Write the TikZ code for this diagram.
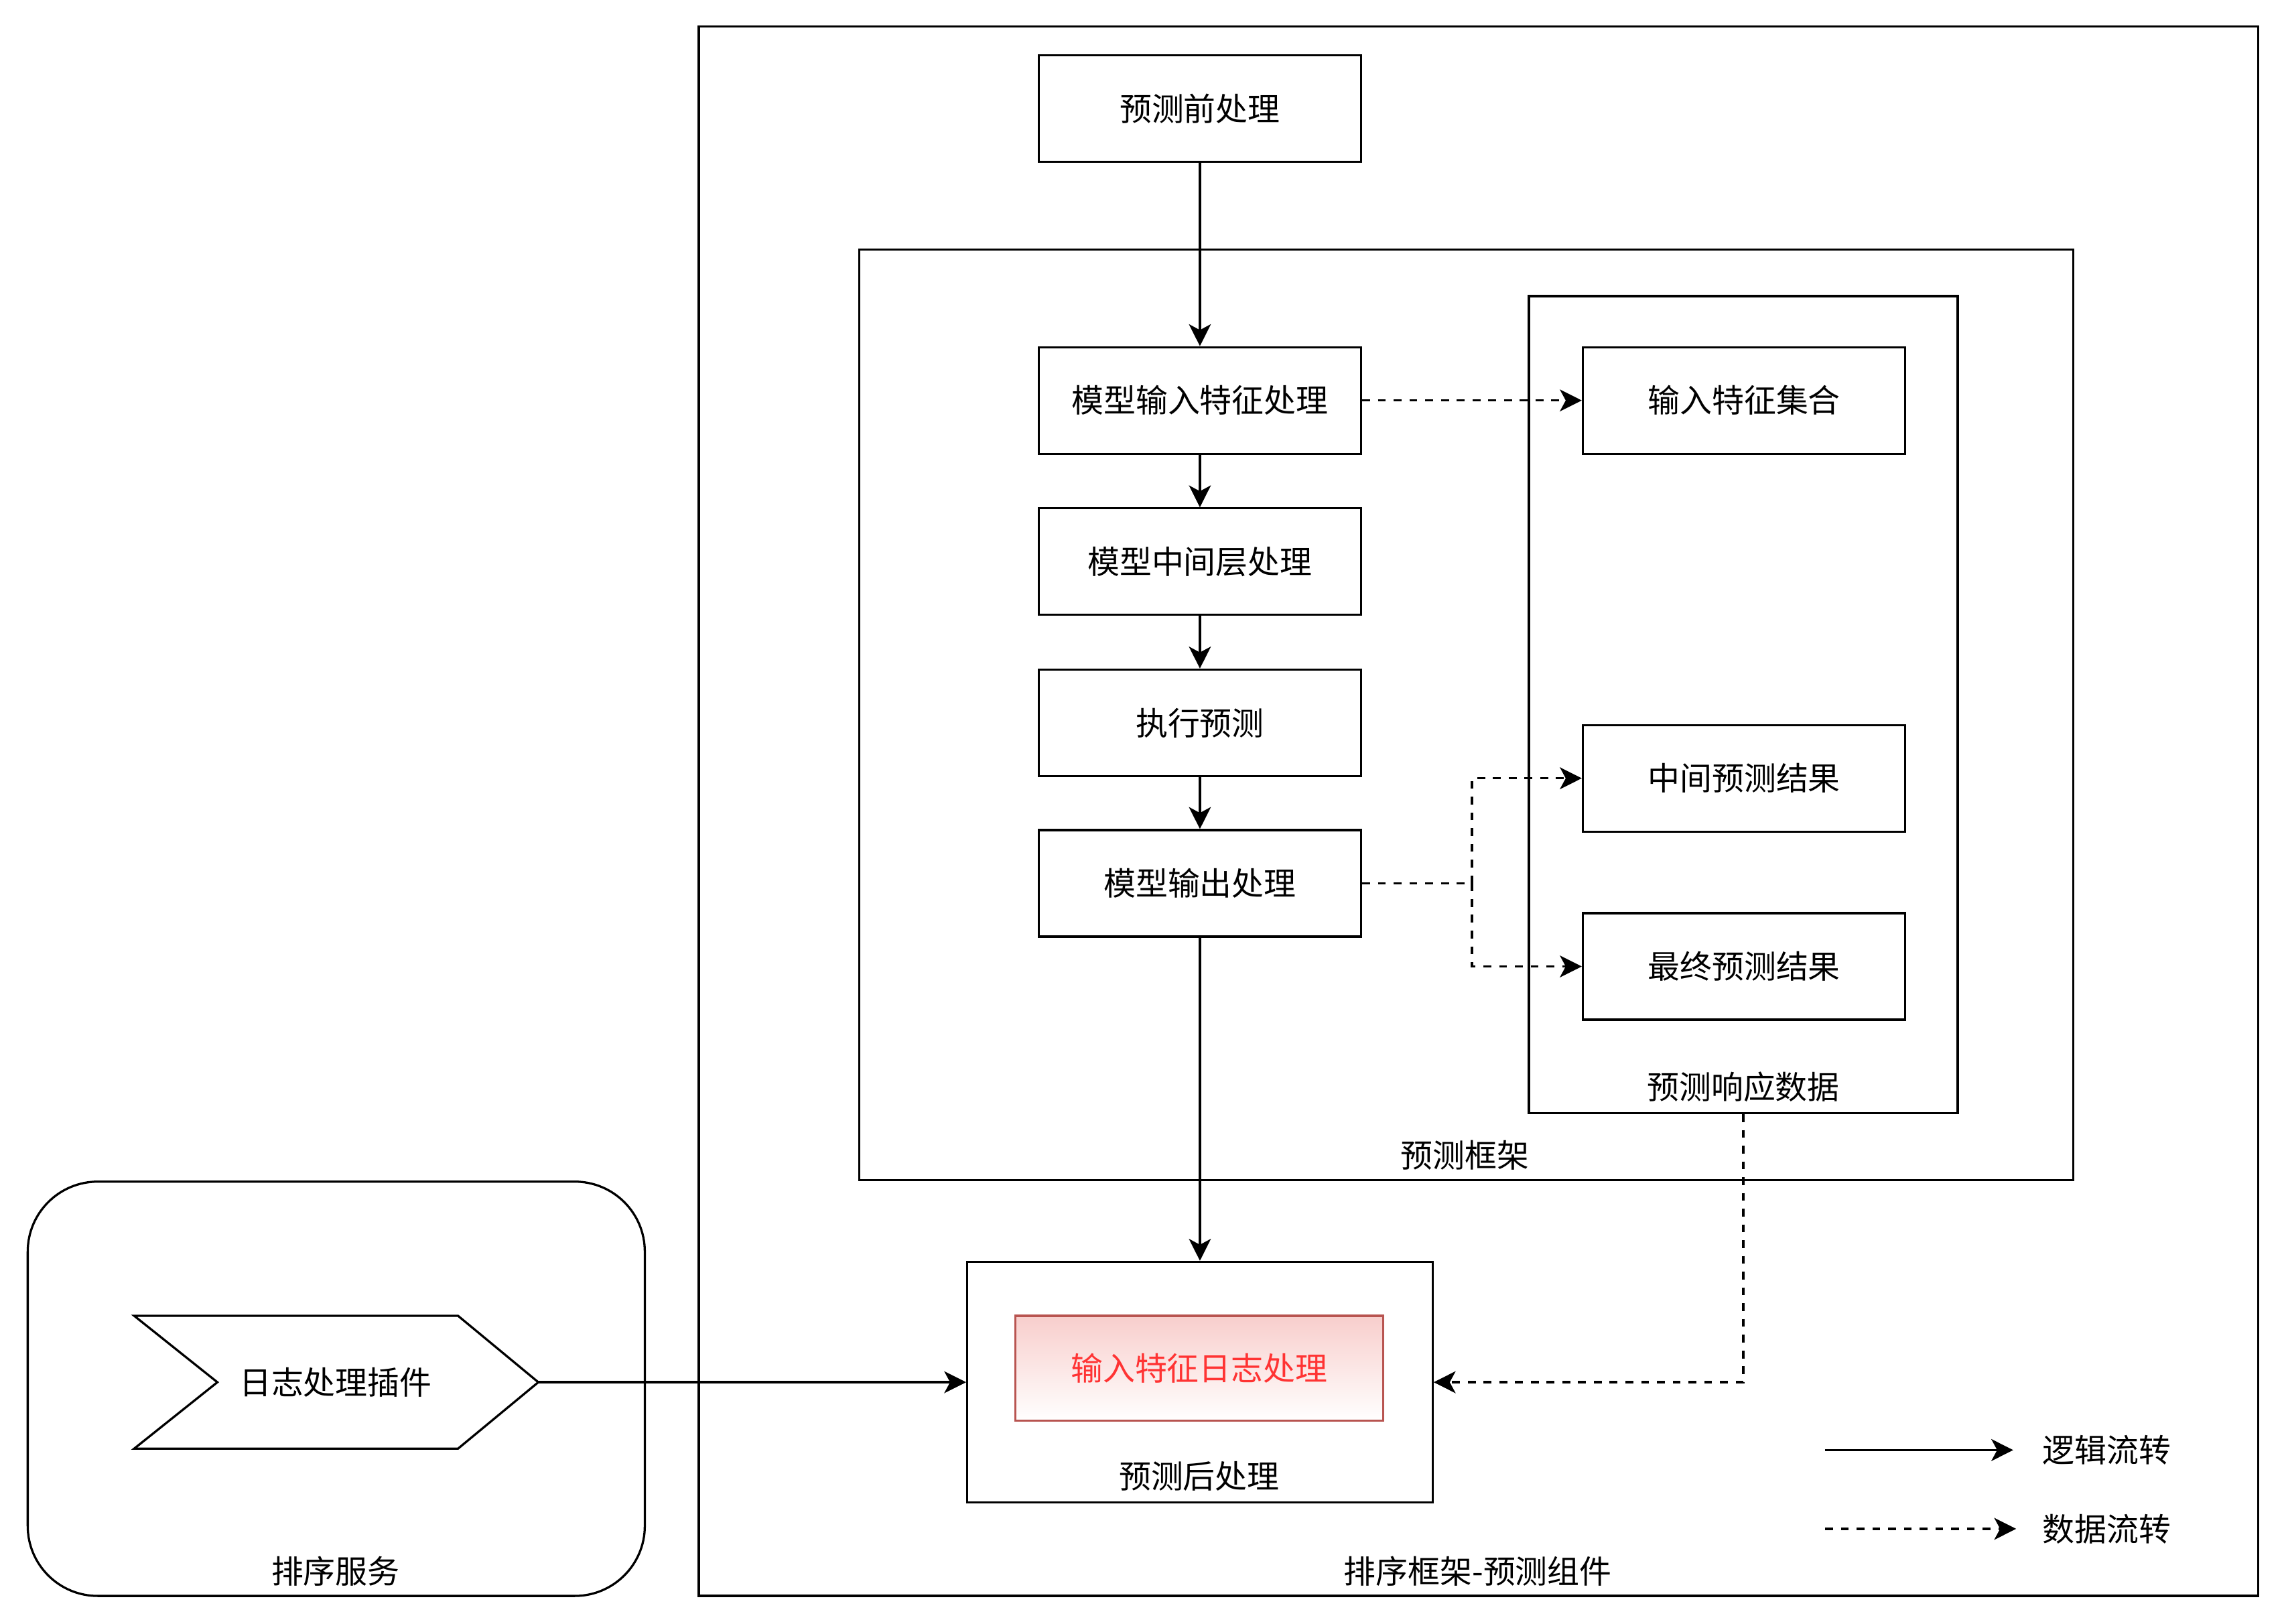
\documentclass[tikz,border=0pt]{standalone}
\usepackage{fontspec}
\setmainfont{Noto Sans CJK SC}
\usetikzlibrary{arrows.meta}
\definecolor{redfill}{HTML}{F8CECC}
\definecolor{redline}{HTML}{B85450}
\definecolor{redtext}{HTML}{FF3333}
\begin{document}
\begin{tikzpicture}[x=0.5pt,y=-0.5pt,
  txt/.style={font=\fontsize{11}{13}\selectfont},
  box/.style={draw, line width=0.75pt, minimum width=110.5pt, minimum height=36.5pt, inner sep=0pt, txt},
  frame/.style={draw, line width=0.75pt, inner sep=0pt},
  lbl/.style={inner sep=0pt, txt},
  logic/.style={line width=0.75pt, -{Stealth[length=7.5pt,width=7.5pt,inset=2pt]}},
  dataflow/.style={logic, dash pattern=on 2.7pt off 2.7pt}]
\fill[white] (0,0) rectangle (1567,1113);
\useasboundingbox (0,0) rectangle (1567,1113);

% containers
\node[frame, minimum width=534.5pt, minimum height=538pt] (outer) at (1013.5,556) {};
\node[lbl] (outerlbl) at (1013,1077) {排序框架-预测组件};
\node[frame, minimum width=416pt, minimum height=319pt] (fw) at (1005,490) {};
\node[lbl] (fwlbl) at (1004,792) {预测框架};
\node[frame, minimum width=147pt, minimum height=280pt] (resp) at (1195,483) {};
\node[lbl] (resplbl) at (1195,745) {预测响应数据};
\node[frame, minimum width=159.5pt, minimum height=82.5pt] (post) at (822.5,947.5) {};
\node[lbl] (postlbl) at (822,1012) {预测后处理};
\node[frame, rounded corners=24pt, minimum width=211.5pt, minimum height=142pt] (sort) at (230.5,952) {};
\node[lbl] (sortlbl) at (230,1077) {排序服务};

% boxes
\node[box] (pre) at (822.5,74.5) {预测前处理};
\node[box] (mif) at (822.5,274.5) {模型输入特征处理};
\node[box] (mid) at (822.5,385) {模型中间层处理};
\node[box] (exec) at (822.5,495.5) {执行预测};
\node[box] (out) at (822.5,605.5) {模型输出处理};
\node[box] (feat) at (1195.5,274.5) {输入特征集合};
\node[box] (mres) at (1195.5,533.5) {中间预测结果};
\node[box] (fres) at (1195.5,662.5) {最终预测结果};
\node[box, draw=redline, top color=redfill, bottom color=white, text=redtext, minimum width=126pt, minimum height=36pt] (log) at (822,938) {输入特征日志处理};

% plugin chevron
\draw[line width=0.75pt, fill=white] (92,902) -- (314,902) -- (369,947.5) -- (314,993) -- (92,993) -- (149,947.5) -- cycle;
\node[lbl] (plugin) at (230,947.5) {日志处理插件};
\coordinate (plugintip) at (369,947.5);

% logic flow
\draw[logic] (pre.south) -- (mif.north);
\draw[logic] (mif.south) -- (mid.north);
\draw[logic] (mid.south) -- (exec.north);
\draw[logic] (exec.south) -- (out.north);
\draw[logic] (out.south) -- (post.north);
\draw[logic] (plugintip) -- (post.west);

% data flow
\draw[dataflow] (mif.east) -- (feat.west);
\coordinate (split) at (1009,605.5);
\draw[dataflow, -] (out.east) -- (split);
\draw[dataflow] (split) |- (mres.west);
\draw[dataflow] (split) |- (fres.west);
\draw[dataflow] (resp.south) |- (post.east);

% legend
\coordinate (la1) at (1251,994);
\coordinate (la2) at (1380,994);
\coordinate (lb1) at (1251,1048);
\coordinate (lb2) at (1382,1048);
\draw[logic] (la1) -- (la2);
\draw[dataflow] (lb1) -- (lb2);
\node[lbl] (leg1) at (1444,994) {逻辑流转};
\node[lbl] (leg2) at (1444,1048) {数据流转};
\end{tikzpicture}
\end{document}
